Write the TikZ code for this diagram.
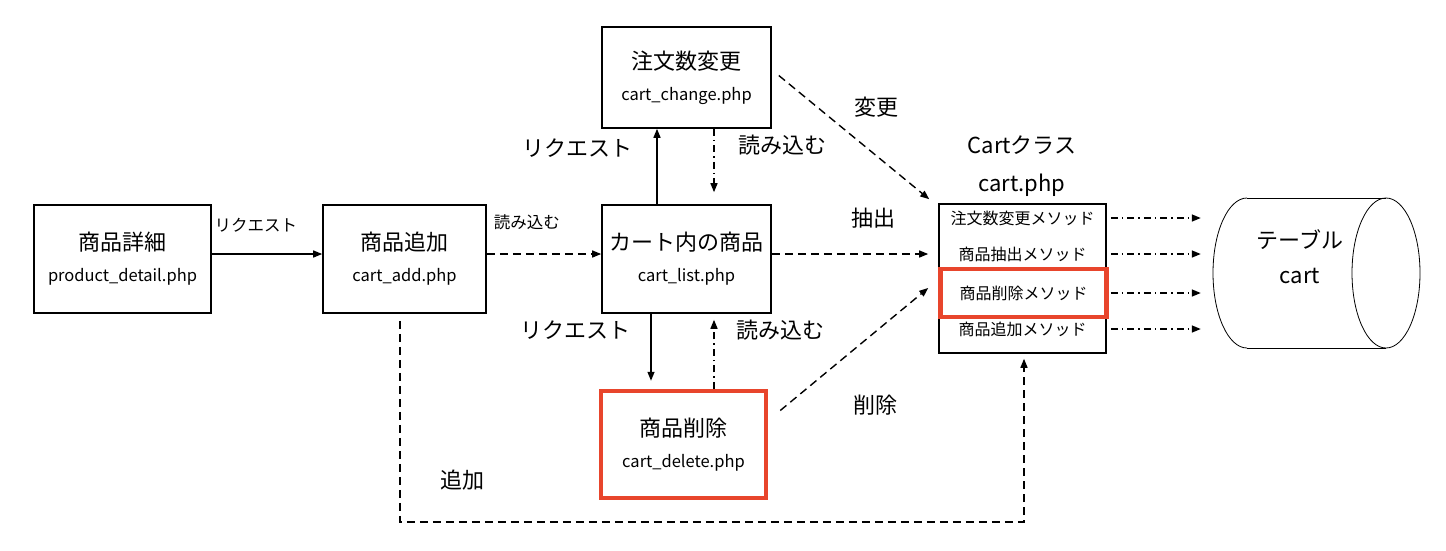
\documentclass[tikz,border=0pt]{standalone}
\usepackage{fontspec}
\setmainfont{Noto Sans CJK JP}
\usetikzlibrary{calc,arrows.meta}

\definecolor{hilite}{HTML}{E8452C}
\newcommand{\bigfont}{\fontsize{22}{31}\selectfont}
\newcommand{\smallfont}{\fontsize{16.5}{31}\selectfont}

\begin{document}
\begin{tikzpicture}[x=1pt,y=-1pt]
\tikzset{
% page boxes and the class box
page/.style={draw,line width=1.6,minimum width=#1,minimum height=108,align=center,font=\bigfont},
page/.default=170,
red page/.style={draw=hilite,line width=4.5},
method/.style={font=\fontsize{16}{18}\selectfont},
% three kinds of connectors
req/.style={-{Triangle[length=9,width=7]},line width=1.4},
load/.style={-{Triangle[length=9,width=7]},line width=1.4,dash pattern=on 7 off 4 on 1.5 off 4},
call/.style={-{Triangle[length=9,width=7]},line width=1.4,dash pattern=on 8 off 5},
big/.style={font=\bigfont},
small/.style={font=\smallfont}
}
\useasboundingbox (0,0) rectangle (1446,550);

% pages
\node[page=177](detail) at (122.5,259) {商品詳細\\\smallfont product\_detail.php};
\node[page=163](add) at (404.5,259) {商品追加\\\smallfont cart\_add.php};
\node[page=169](list) at (686.5,259) {カート内の商品\\\smallfont cart\_list.php};
\node[page=169,minimum height=101](change) at (686.5,77.5) {注文数変更\\\smallfont cart\_change.php};
\node[page=165,minimum height=107,red page](delete) at (683.5,444.5) {商品削除\\\smallfont cart\_delete.php};

% Cart class
\node[big](cartname) at (1022,145) {Cartクラス};
\node[big](cartfile) at (1022,185) {cart.php};
\node[draw,line width=1.6,minimum width=167,minimum height=149](cart) at (1022.5,278.5) {};
\node[method](mchange) at (1022.5,218) {注文数変更メソッド};
\node[method](mfetch) at (1022.5,254) {商品抽出メソッド};
\node[method,draw=hilite,line width=4.5,minimum width=166,minimum height=48](mdelete) at (1023.5,293) {商品削除メソッド};
\node[method](madd) at (1022.5,329) {商品追加メソッド};

% table (a lying cylinder)
\draw[line width=0.8] (1247,198) -- (1386,198) (1247,348) -- (1386,348);
\draw[line width=0.8] (1247,198) arc[start angle=270,end angle=90,x radius=34,y radius=75];
\draw[line width=0.8] (1386,273) ellipse[x radius=34,y radius=75];
\node[big,align=center,font=\fontsize{22}{35}\selectfont](tablename) at (1300,257) {テーブル\\cart};

% requests
\draw[req] ([yshift=5]detail.east) -- ([yshift=5]add.west) node[pos=0.4,above=18,small]{リクエスト};
\draw[req] ([xshift=-29.5]list.north) -- ([xshift=-29.5]change.south) node[pos=0.75,left=20,big]{リクエスト};
\draw[req] ([xshift=-35.5]list.south) -- ([xshift=-32.5,yshift=8]delete.north) node[pos=0.25,left=16,big]{リクエスト};

% loads
\draw[call] ([yshift=5]add.east) -- ([yshift=5]list.west) node[pos=0.35,above=20,small]{読み込む};
\draw[load] ([xshift=27.5]change.south) -- ([xshift=27.5,yshift=12]list.north) node[pos=0.25,right=20,big]{読み込む};
\draw[load] ([xshift=30.5]delete.north) -- ([xshift=27.5,yshift=-6]list.south) node[pos=0.85,right=18,big]{読み込む};

% calls into the class
\draw[call] ([yshift=5]list.east) -- ([xshift=-10,yshift=24.5]cart.west) node[pos=0.65,above=22,big]{抽出};
\draw[call] ([xshift=7,yshift=2]change.east) -- ([xshift=-9,yshift=4]cart.north west) node[pos=0.5,xshift=22,yshift=30,big]{変更};
\draw[call] ([xshift=12,yshift=34]delete.east) -- ([xshift=-10,yshift=-9.5]cart.west) node[pos=0.5,xshift=21,yshift=-56,big]{削除};
\coordinate (bottom) at (0,522);
\draw[call] ([xshift=-4.5,yshift=-7]add.south) |- ([xshift=1.5]cart.south |- bottom) -- ([xshift=1.5,yshift=-5]cart.south);
\node[big](addlabel) at (462,480) {追加};

% methods to the table
\foreach \m in {mchange,mfetch,mdelete,madd}
  \draw[load] (cart.east |- \m) ++(4,0) -- ++(90,0);
\end{tikzpicture}
\end{document}
